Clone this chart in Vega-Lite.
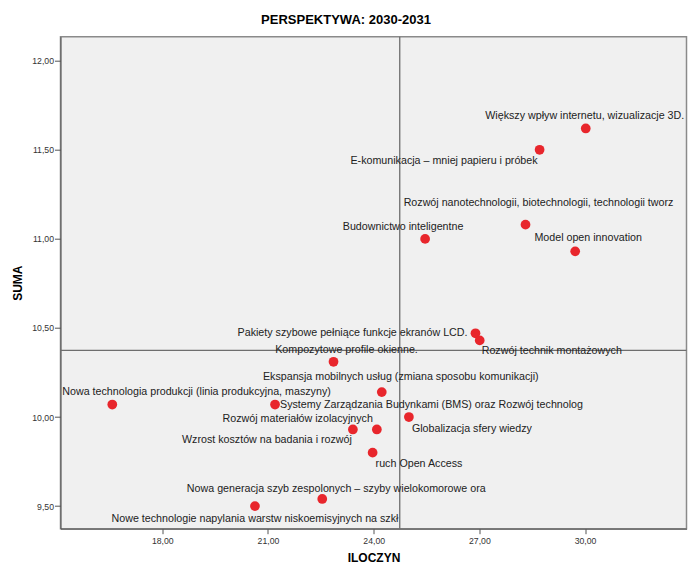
{
  "$schema": "https://vega.github.io/schema/vega-lite/v6.json",
  "width": 626,
  "height": 492,
  "autosize": {"type": "none"},
  "padding": {"left": 60.5, "top": 36.7, "right": 8.5, "bottom": 35.8},
  "background": "white",
  "title": {"text": "PERSPEKTYWA: 2030-2031", "font": "Liberation Sans", "fontSize": 13, "fontWeight": "bold", "color": "#000000", "anchor": "middle", "dx": -27.5, "dy": 12, "offset": 11, "baseline": "alphabetic"},
  "config": {
    "view": {"fill": "#f0f0f0", "stroke": "#8a8a8a", "strokeWidth": 1.5},
    "axis": {"grid": false, "labelFont": "Liberation Sans", "titleFont": "Liberation Sans", "labelFontSize": 8.7, "labelColor": "#333333", "tickColor": "#555555", "domainColor": "#555555", "titleFontSize": 12, "titleFontWeight": "bold", "titleColor": "#000000"},
    "text": {"font": "Liberation Sans", "fontSize": 10.7, "fill": "#222222", "baseline": "middle"}
  },
  "datasets": {
    "pts": [
      {"name": "Większy wpływ internetu, wizualizacje 3D.", "ILOCZYN": 30.02, "SUMA": 11.62},
      {"name": "E-komunikacja – mniej papieru i próbek", "ILOCZYN": 28.71, "SUMA": 11.50},
      {"name": "Rozwój nanotechnologii, biotechnologii, technologii tworz", "ILOCZYN": 28.31, "SUMA": 11.08},
      {"name": "Model open innovation", "ILOCZYN": 29.72, "SUMA": 10.93},
      {"name": "Budownictwo inteligentne", "ILOCZYN": 25.46, "SUMA": 11.00},
      {"name": "Pakiety szybowe pełniące funkcje ekranów LCD.", "ILOCZYN": 26.89, "SUMA": 10.47},
      {"name": "Rozwój technik montażowych", "ILOCZYN": 27.01, "SUMA": 10.43},
      {"name": "Kompozytowe profile okienne.", "ILOCZYN": 22.86, "SUMA": 10.31},
      {"name": "Ekspansja mobilnych usług (zmiana sposobu komunikacji)", "ILOCZYN": 24.23, "SUMA": 10.14},
      {"name": "Nowa technologia produkcji (linia produkcyjna, maszyny)", "ILOCZYN": 16.58, "SUMA": 10.07},
      {"name": "Systemy Zarządzania Budynkami (BMS) oraz Rozwój technolog", "ILOCZYN": 21.20, "SUMA": 10.07},
      {"name": "Globalizacja sfery wiedzy", "ILOCZYN": 25.00, "SUMA": 10.00},
      {"name": "Wzrost kosztów na badania i rozwój", "ILOCZYN": 23.41, "SUMA": 9.93},
      {"name": "Rozwój materiałów izolacyjnych", "ILOCZYN": 24.09, "SUMA": 9.93},
      {"name": "ruch Open Access", "ILOCZYN": 23.97, "SUMA": 9.80},
      {"name": "Nowa generacja szyb zespolonych – szyby wielokomorowe ora", "ILOCZYN": 22.54, "SUMA": 9.54},
      {"name": "Nowe technologie napylania warstw niskoemisyjnych na szkł", "ILOCZYN": 20.63, "SUMA": 9.50}
    ],
    "vx": [{"ILOCZYN": 24.74}],
    "hy": [{"SUMA": 10.374}]
  },
  "data": {"name": "pts"},
  "layer": [
    {
      "data": {"name": "vx"},
      "mark": {"type": "rule", "color": "#6e6e6e", "strokeWidth": 1.3},
      "encoding": {"x": {"field": "ILOCZYN", "type": "quantitative"}}
    },
    {
      "data": {"name": "hy"},
      "mark": {"type": "rule", "color": "#6e6e6e", "strokeWidth": 1.3},
      "encoding": {"y": {"field": "SUMA", "type": "quantitative"}}
    },
    {
      "mark": {"type": "point", "filled": true, "color": "#e8262c", "opacity": 1, "size": 95},
      "encoding": {
        "x": {"field": "ILOCZYN", "type": "quantitative", "scale": {"domain": [15.11, 32.88], "nice": false, "zero": false},
          "axis": {"title": "ILOCZYN", "values": [18, 21, 24, 27, 30], "labelExpr": "replace(format(datum.value, '.2f'), '.', ',')", "tickSize": 5, "labelPadding": 3, "titlePadding": 7}},
        "y": {"field": "SUMA", "type": "quantitative", "scale": {"domain": [9.373, 12.135], "nice": false, "zero": false},
          "axis": {"title": "SUMA", "values": [9.5, 10, 10.5, 11, 11.5, 12], "labelExpr": "replace(format(datum.value, '.2f'), '.', ',')", "tickSize": 6, "labelPadding": 1, "titlePadding": 7}}
      }
    },
    {"transform": [{"filter": {"field": "name", "equal": "Większy wpływ internetu, wizualizacje 3D."}}], "mark": {"type": "text", "align": "center", "dx": -1, "dy": -12}, "encoding": {"x": {"field": "ILOCZYN", "type": "quantitative"}, "y": {"field": "SUMA", "type": "quantitative"}, "text": {"field": "name"}}},
    {"transform": [{"filter": {"field": "name", "equal": "E-komunikacja – mniej papieru i próbek"}}], "mark": {"type": "text", "align": "right", "dx": -2, "dy": 11}, "encoding": {"x": {"field": "ILOCZYN", "type": "quantitative"}, "y": {"field": "SUMA", "type": "quantitative"}, "text": {"field": "name"}}},
    {"transform": [{"filter": {"field": "name", "equal": "Rozwój nanotechnologii, biotechnologii, technologii tworz"}}], "mark": {"type": "text", "align": "center", "dx": 13, "dy": -22}, "encoding": {"x": {"field": "ILOCZYN", "type": "quantitative"}, "y": {"field": "SUMA", "type": "quantitative"}, "text": {"field": "name"}}},
    {"transform": [{"filter": {"field": "name", "equal": "Model open innovation"}}], "mark": {"type": "text", "align": "center", "dx": 13, "dy": -13}, "encoding": {"x": {"field": "ILOCZYN", "type": "quantitative"}, "y": {"field": "SUMA", "type": "quantitative"}, "text": {"field": "name"}}},
    {"transform": [{"filter": {"field": "name", "equal": "Budownictwo inteligentne"}}], "mark": {"type": "text", "align": "center", "dx": -22, "dy": -12}, "encoding": {"x": {"field": "ILOCZYN", "type": "quantitative"}, "y": {"field": "SUMA", "type": "quantitative"}, "text": {"field": "name"}}},
    {"transform": [{"filter": {"field": "name", "equal": "Pakiety szybowe pełniące funkcje ekranów LCD."}}], "mark": {"type": "text", "align": "right", "dx": -8, "dy": 0}, "encoding": {"x": {"field": "ILOCZYN", "type": "quantitative"}, "y": {"field": "SUMA", "type": "quantitative"}, "text": {"field": "name"}}},
    {"transform": [{"filter": {"field": "name", "equal": "Rozwój technik montażowych"}}], "mark": {"type": "text", "align": "left", "dx": 2, "dy": 11}, "encoding": {"x": {"field": "ILOCZYN", "type": "quantitative"}, "y": {"field": "SUMA", "type": "quantitative"}, "text": {"field": "name"}}},
    {"transform": [{"filter": {"field": "name", "equal": "Kompozytowe profile okienne."}}], "mark": {"type": "text", "align": "center", "dx": 13, "dy": -12}, "encoding": {"x": {"field": "ILOCZYN", "type": "quantitative"}, "y": {"field": "SUMA", "type": "quantitative"}, "text": {"field": "name"}}},
    {"transform": [{"filter": {"field": "name", "equal": "Ekspansja mobilnych usług (zmiana sposobu komunikacji)"}}], "mark": {"type": "text", "align": "center", "dx": 19, "dy": -15}, "encoding": {"x": {"field": "ILOCZYN", "type": "quantitative"}, "y": {"field": "SUMA", "type": "quantitative"}, "text": {"field": "name"}}},
    {"transform": [{"filter": {"field": "name", "equal": "Nowa technologia produkcji (linia produkcyjna, maszyny)"}}], "mark": {"type": "text", "align": "left", "dx": -50, "dy": -13}, "encoding": {"x": {"field": "ILOCZYN", "type": "quantitative"}, "y": {"field": "SUMA", "type": "quantitative"}, "text": {"field": "name"}}},
    {"transform": [{"filter": {"field": "name", "equal": "Systemy Zarządzania Budynkami (BMS) oraz Rozwój technolog"}}], "mark": {"type": "text", "align": "left", "dx": 5, "dy": 0}, "encoding": {"x": {"field": "ILOCZYN", "type": "quantitative"}, "y": {"field": "SUMA", "type": "quantitative"}, "text": {"field": "name"}}},
    {"transform": [{"filter": {"field": "name", "equal": "Globalizacja sfery wiedzy"}}], "mark": {"type": "text", "align": "left", "dx": 3, "dy": 12}, "encoding": {"x": {"field": "ILOCZYN", "type": "quantitative"}, "y": {"field": "SUMA", "type": "quantitative"}, "text": {"field": "name"}}},
    {"transform": [{"filter": {"field": "name", "equal": "Wzrost kosztów na badania i rozwój"}}], "mark": {"type": "text", "align": "right", "dx": -1, "dy": 11}, "encoding": {"x": {"field": "ILOCZYN", "type": "quantitative"}, "y": {"field": "SUMA", "type": "quantitative"}, "text": {"field": "name"}}},
    {"transform": [{"filter": {"field": "name", "equal": "Rozwój materiałów izolacyjnych"}}], "mark": {"type": "text", "align": "right", "dx": -4, "dy": -10}, "encoding": {"x": {"field": "ILOCZYN", "type": "quantitative"}, "y": {"field": "SUMA", "type": "quantitative"}, "text": {"field": "name"}}},
    {"transform": [{"filter": {"field": "name", "equal": "ruch Open Access"}}], "mark": {"type": "text", "align": "left", "dx": 3, "dy": 11}, "encoding": {"x": {"field": "ILOCZYN", "type": "quantitative"}, "y": {"field": "SUMA", "type": "quantitative"}, "text": {"field": "name"}}},
    {"transform": [{"filter": {"field": "name", "equal": "Nowa generacja szyb zespolonych – szyby wielokomorowe ora"}}], "mark": {"type": "text", "align": "center", "dx": 14, "dy": -10}, "encoding": {"x": {"field": "ILOCZYN", "type": "quantitative"}, "y": {"field": "SUMA", "type": "quantitative"}, "text": {"field": "name"}}},
    {"transform": [{"filter": {"field": "name", "equal": "Nowe technologie napylania warstw niskoemisyjnych na szkł"}}], "mark": {"type": "text", "align": "center", "dx": 0, "dy": 12.5}, "encoding": {"x": {"field": "ILOCZYN", "type": "quantitative"}, "y": {"field": "SUMA", "type": "quantitative"}, "text": {"field": "name"}}}
  ]
}
